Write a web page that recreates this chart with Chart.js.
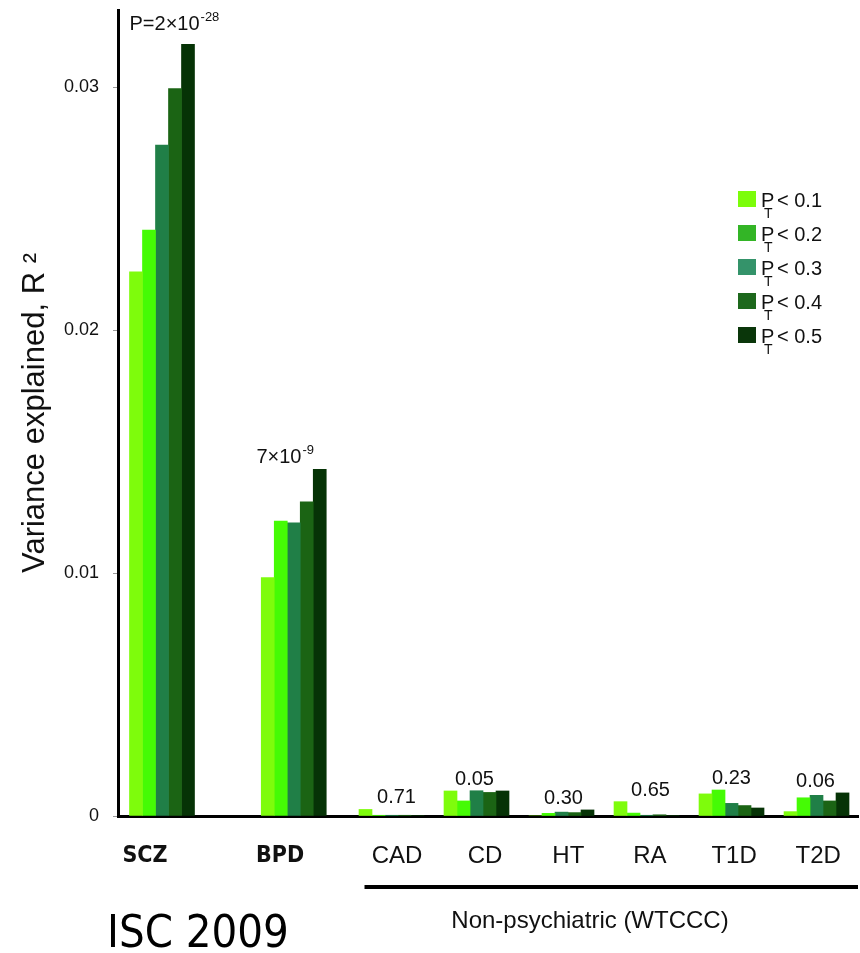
<!DOCTYPE html>
<html><head><meta charset="utf-8">
<script src="https://cdn.jsdelivr.net/npm/chart.js@4.4.1/dist/chart.umd.min.js"></script>
<style>html,body{margin:0;padding:0;background:#fff;overflow:hidden}#wrap{position:relative;width:860px;height:953px}</style>
</head><body><div id="wrap"><canvas id="c" width="860" height="953"></canvas></div>
<script>
// ---------------- DATA ----------------
const categories = ['SCZ', 'BPD', 'CAD', 'CD', 'HT', 'RA', 'T1D', 'T2D'];
const thresholds = ['0.1', '0.2', '0.3', '0.4', '0.5'];
const r2_pt01 = [0.02239, 0.00981, 0.00027, 0.00103, 0.00000, 0.00059, 0.00091, 0.00018];
const r2_pt02 = [0.02411, 0.01214, 0.00003, 0.00062, 0.00011, 0.00012, 0.00107, 0.00075];
const r2_pt03 = [0.02761, 0.01207, 0.00003, 0.00104, 0.00016, 0.00003, 0.00052, 0.00085];
const r2_pt04 = [0.02994, 0.01293, 0.00003, 0.00097, 0.00014, 0.00005, 0.00043, 0.00062];
const r2_pt05 = [0.03176, 0.01427, 0.00002, 0.00103, 0.00025, 0.00002, 0.00033, 0.00095];
const pLabels = ['P=2×10^-28', '7×10^-9', '0.71', '0.05', '0.30', '0.65', '0.23', '0.06'];
const yTickValues = [0, 0.01, 0.02, 0.03];
const yTickLabels = ['0', '0.01', '0.02', '0.03'];
const groupTitle = 'Non-psychiatric (WTCCC)';
const footerText = 'ISC 2009';
const yTitle = 'Variance explained, R ²';

// ---------------- LAYOUT / STYLE ----------------
const groupSlots = [0, 1.55, 2.7, 3.7, 4.7, 5.7, 6.7, 7.7];
const labelSlots = [-0.2, 1.39, 2.765, 3.8, 4.78, 5.74, 6.73, 7.72];
const annotNudge = [0, -9, 5, -2, 2, 4, 0, -1];
const barColors = ['#7efc0c', '#45fb05', '#207f47', '#1b6414', '#063306'];
const legendColors = ['#7cfd0a', '#33b526', '#34936a', '#1d681c', '#0a360a'];
const SANS = '"Liberation Sans", Arial, Helvetica, sans-serif';
const NARROW = '"Liberation Sans Narrow", "DejaVu Sans Condensed", "Liberation Sans", sans-serif';

const series = [r2_pt01, r2_pt02, r2_pt03, r2_pt04, r2_pt05];

const datasets = series.map((s, k) => ({
  label: 'P_T< ' + thresholds[k],
  data: s.map((v, i) => ({ x: groupSlots[i], y: v })),
  backgroundColor: barColors[k],
  borderWidth: 0,
  barThickness: 13
}));

function drawSup(ctx, text, x, y, size, align) {
  const parts = text.split('^');
  ctx.font = size + 'px ' + SANS;
  const w1 = ctx.measureText(parts[0]).width;
  let w2 = 0;
  const supSize = Math.round(size * 0.65);
  if (parts[1]) { ctx.font = supSize + 'px ' + SANS; w2 = ctx.measureText(parts[1]).width; }
  let x0 = align === 'left' ? x : x - (w1 + w2) / 2;
  ctx.textAlign = 'left';
  ctx.textBaseline = 'alphabetic';
  ctx.font = size + 'px ' + SANS;
  ctx.fillText(parts[0], x0, y);
  if (parts[1]) {
    ctx.font = supSize + 'px ' + SANS;
    ctx.fillText(parts[1], x0 + w1 + 1, y - size * 0.45);
  }
}

const overlay = {
  id: 'overlay',
  afterDraw(chart) {
    const { ctx, scales: { x, y }, chartArea } = chart;
    ctx.save();
    ctx.fillStyle = '#111';
    // p-value annotations
    categories.forEach((c, i) => {
      const maxV = Math.max(...series.map(s => s[i]));
      const top = y.getPixelForValue(maxV);
      const cx = x.getPixelForValue(groupSlots[i]) + annotNudge[i];
      if (i === 0) drawSup(ctx, pLabels[i], cx - 32.5, top - 14, 20, 'left');
      else drawSup(ctx, pLabels[i], cx, top - 6, 20, 'center');
    });
    // legend
    thresholds.forEach((t, k) => {
      const cy = 199 + k * 34;
      ctx.fillStyle = legendColors[k];
      ctx.fillRect(738, cy - 8, 18, 16);
      ctx.fillStyle = '#111';
      ctx.textAlign = 'left';
      ctx.textBaseline = 'alphabetic';
      ctx.font = '20px ' + SANS;
      ctx.fillText('P', 761, cy + 8);
      ctx.font = '14px ' + SANS;
      ctx.fillText('T', 764, cy + 19);
      ctx.font = '20px ' + SANS;
      ctx.fillText('< ' + t, 777, cy + 8);
    });
    // group line and title
    const lx0 = x.getPixelForValue(groupSlots[2]) - 27;
    ctx.fillStyle = '#000';
    ctx.fillRect(lx0, 885, chartArea.right - lx0, 4);
    ctx.fillStyle = '#111';
    ctx.font = '24px ' + SANS;
    ctx.textAlign = 'center';
    ctx.fillText(groupTitle, 590, 928);
    // footer
    ctx.fillStyle = '#000';
    ctx.font = '45px ' + NARROW;
    ctx.textAlign = 'left';
    ctx.fillText(footerText, 107, 947);
    ctx.restore();
  }
};

new Chart(document.getElementById('c'), {
  type: 'bar',
  data: { datasets },
  plugins: [overlay],
  options: {
    responsive: false,
    animation: false,
    devicePixelRatio: 1,
    layout: { padding: { top: 10, right: 2, left: 0, bottom: 0 } },
    plugins: { legend: { display: false }, tooltip: { enabled: false } },
    scales: {
      x: {
        type: 'linear',
        min: -0.5176,
        max: 8.188,
        offset: false,
        grid: { display: false, drawTicks: false },
        border: { display: true, color: '#000', width: 3 },
        afterBuildTicks: (axis) => { axis.ticks = labelSlots.map(v => ({ value: v })); },
        afterFit: (axis) => { axis.height = 137; axis.paddingLeft = 0; axis.paddingRight = 0; },
        ticks: {
          autoSkip: false,
          maxRotation: 0,
          padding: 26,
          color: '#111',
          callback: (v, i) => categories[i],
          font: (ctx) => ctx.index < 2
            ? { family: NARROW, size: 23, weight: 'bold' }
            : { family: SANS, size: 24 }
        }
      },
      y: {
        min: 0,
        max: 0.03317,
        grid: { display: true, drawOnChartArea: false, drawTicks: true, tickLength: 5, color: '#999' },
        border: { display: true, color: '#000', width: 3 },
        afterBuildTicks: (axis) => { axis.ticks = yTickValues.map(v => ({ value: v })); },
        afterFit: (axis) => { axis.width = 118; axis.paddingTop = 0; axis.paddingBottom = 0; },
        ticks: {
          padding: 14,
          color: '#111',
          font: { family: SANS, size: 18 },
          callback: (v, i) => yTickLabels[i]
        },
        title: {
          display: true,
          text: yTitle,
          color: '#111',
          font: { family: SANS, size: 31 },
          padding: { top: 17, bottom: 0 }
        }
      }
    }
  }
});
</script>
</body></html>
